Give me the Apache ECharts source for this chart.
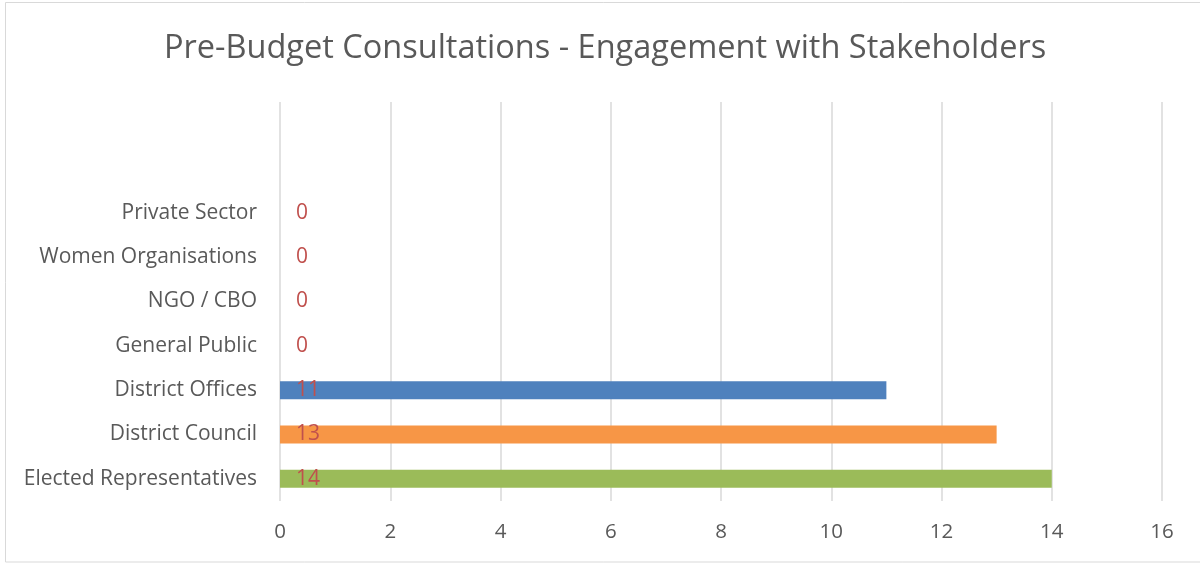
<!DOCTYPE html>
<html>
<head>
<meta charset="utf-8">
<script src="https://cdn.jsdelivr.net/npm/echarts@6/dist/echarts.min.js"></script>
<style>
html,body{margin:0;padding:0;background:#fff;}
#c{width:1200px;height:565px;}
</style>
</head>
<body>
<div id="c"></div>
<script>
var titleText = 'Pre-Budget Consultations - Engagement with Stakeholders';
var categories = ['Elected Representatives', 'District Council', 'District Offices', 'General Public', 'NGO / CBO', 'Women Organisations', 'Private Sector'];
var values = [14, 13, 11, 0, 0, 0, 0];
var barColors = ['#9BBB59', '#F79646', '#4F81BD', '#4F81BD', '#4F81BD', '#4F81BD', '#4F81BD'];
var xTicks = { min: 0, max: 16, interval: 2 };
var emptySlots = 2;

var axisCats = categories.slice();
var seriesData = values.map(function (v, i) {
  return { value: v, itemStyle: { color: barColors[i] } };
});
for (var k = 0; k < emptySlots; k++) {
  axisCats.push(' '.repeat(k + 1));
  seriesData.push('-');
}

var chart = echarts.init(document.getElementById('c'), null, { renderer: 'canvas' });
chart.setOption({
  backgroundColor: '#fff',
  animation: false,
  title: {
    text: titleText,
    left: 159,
    top: 27,
    textStyle: { fontFamily: 'Open Sans', fontSize: 32.5, fontWeight: 'normal', color: '#595959' }
  },
  graphic: [{
    type: 'rect',
    shape: { x: 5.5, y: 2.5, width: 1200, height: 559.5 },
    style: { fill: 'none', stroke: '#d9d9d9', lineWidth: 1 },
    silent: true
  }],
  grid: { left: 280, right: 38, top: 102, bottom: 64, containLabel: false },
  xAxis: {
    type: 'value',
    min: xTicks.min, max: xTicks.max, interval: xTicks.interval,
    axisLine: { show: false },
    axisTick: { show: false },
    splitLine: { show: true, lineStyle: { color: '#d9d9d9', width: 1.5 } },
    axisLabel: { color: '#595959', fontFamily: 'Open Sans', fontSize: 20.5, margin: 21 }
  },
  yAxis: {
    type: 'category',
    data: axisCats,
    axisLine: { show: false },
    axisTick: { show: false },
    splitLine: { show: false },
    axisLabel: { color: '#595959', fontFamily: 'Open Sans', fontSize: 21, margin: 23 }
  },
  series: [{
    type: 'bar',
    data: seriesData,
    barWidth: 18,
    label: {
      show: true,
      position: 'insideLeft',
      distance: 16,
      color: '#C0504D',
      fontFamily: 'Open Sans',
      fontSize: 21
    }
  }]
});
</script>
</body>
</html>
